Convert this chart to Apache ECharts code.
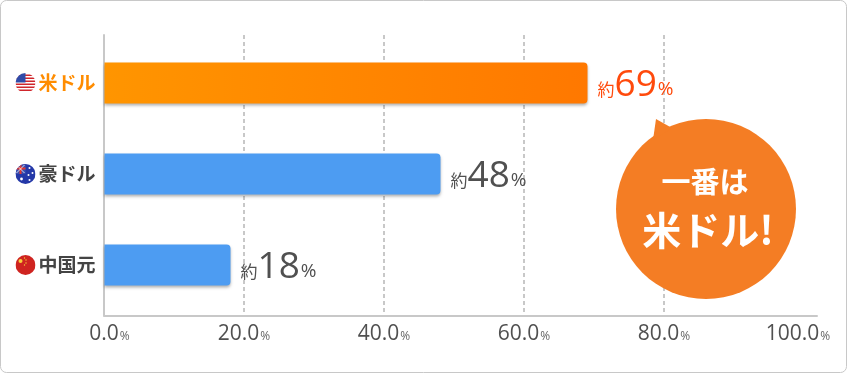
<!DOCTYPE html>
<html>
<head>
<meta charset="utf-8">
<style>
  html, body { margin: 0; padding: 0; background: #fff; }
  #main { width: 847px; height: 373px; }
</style>
<script src="https://cdn.jsdelivr.net/npm/echarts@6/dist/echarts.min.js"></script>
</head>
<body>
<div id="main"></div>
<script>
const categories = ["米ドル", "豪ドル", "中国元"];
const values = [69, 48, 18];
const xTicks = [0, 20, 40, 60, 80, 100];

const FONT = '"Open Sans", "Noto Sans CJK JP", sans-serif';
const JP = '"Noto Sans CJK JP", sans-serif';
const GREY = "#505050";

// round flags, drawn as small inline svg images for the axis labels
function svgUri(inner) {
  return "data:image/svg+xml;charset=utf-8," + encodeURIComponent(
    '<svg xmlns="http://www.w3.org/2000/svg" width="20" height="20" viewBox="0 0 20 20">' +
    '<defs><clipPath id="c"><circle cx="10" cy="10" r="10"/></clipPath></defs>' +
    '<g clip-path="url(#c)">' + inner + "</g></svg>");
}
const usFlag = svgUri(
  '<rect width="20" height="20" fill="#fff"/>' +
  [1.5, 4.5, 7.5, 10.5, 13.5, 16.5].map((y) => `<rect y="${y}" width="20" height="1.6" fill="#d0262c"/>`).join("") +
  '<rect width="10" height="9.5" fill="#2f4ba8"/>');
const auFlag = svgUri(
  '<rect width="20" height="20" fill="#2438a8"/>' +
  '<rect x="0" y="0" width="10" height="10" fill="#3a4fb0"/>' +
  '<path d="M0 4.5h10M5 0v10" stroke="#e4362e" stroke-width="2"/>' +
  '<path d="M1 1l8 8M9 1l-8 8" stroke="#fff" stroke-width=".8"/>' +
  '<g fill="#fff"><circle cx="14" cy="4" r="1"/><circle cx="17" cy="9" r="1"/><circle cx="13" cy="11" r="1"/><circle cx="14" cy="16" r="1"/><circle cx="6" cy="15" r="1.4"/></g>');
const cnFlag = svgUri(
  '<rect width="20" height="20" fill="#cf2420"/>' +
  '<circle cx="5" cy="6" r="2" fill="#f7d038"/>' +
  '<g fill="#f7d038"><circle cx="9" cy="3" r=".7"/><circle cx="10.5" cy="5" r=".7"/><circle cx="10.5" cy="8" r=".7"/><circle cx="9" cy="10" r=".7"/></g>');

const flagRich = (img) => ({
  width: 20, height: 20, backgroundColor: { image: img }
});
const nameRich = (color) => ({
  color: color, fontFamily: JP, fontWeight: "bold", fontSize: 19, padding: [0, 0, 0, 3]
});
const tickNum = (padding) => ({ fontFamily: FONT, fontSize: 21, fontWeight: 500, color: GREY, padding: padding });
const tickPct = (padding) => ({ fontFamily: FONT, fontSize: 12, color: "#666", padding: padding });
const valueRich = (color) => ({
  u: { fontFamily: JP, fontSize: 17, color: color, padding: [9, 0, 0, 0] },
  v: { fontFamily: FONT, fontSize: 37, fontWeight: 500, color: color },
  p: { fontFamily: FONT, fontSize: 19, color: color, padding: [9, 0, 0, 1] },
});
const hiRich = valueRich("#ff4a0c");
const loRich = valueRich(GREY);

const myChart = echarts.init(document.getElementById("main"));

const option = {
  animation: false,
  backgroundColor: "#fff",
  grid: [
    // frame grid: reaches a bit past the bars on top and bottom
    { left: 104, width: 713, top: 35, height: 280.5 },
    { left: 104.5, width: 713, top: 37.5, height: 273 },
  ],
  xAxis: [
    {
      gridIndex: 0,
      type: "value",
      min: 0,
      max: 101.86,
      axisLine: { show: true, onZero: false, lineStyle: { color: "#c8c8c8", width: 2 } },
      axisTick: { show: false, customValues: xTicks },
      splitLine: {
        show: true,
        showMinLine: false,
        showMaxLine: false,
        lineStyle: { color: "#c8c8c8", width: 2, type: [4, 3] },
      },
      axisLabel: {
        customValues: xTicks,
        margin: 8,
        // first and last labels sit a little inside their ticks
        formatter: (v) => {
          const key = v === 0 ? "first" : v === 100 ? "last" : "mid";
          return `{n${key}|${v.toFixed(1)}}{p${key}|%}`;
        },
        rich: {
          nmid: tickNum([0, 0, 0, 0]),
          pmid: tickPct([5, 0, 0, 1]),
          nfirst: tickNum([0, 0, 0, 11]),
          pfirst: tickPct([5, 0, 0, 1]),
          nlast: tickNum([0, 0, 0, 0]),
          plast: tickPct([5, 12, 0, 1]),
        },
      },
    },
    {
      gridIndex: 1,
      type: "value",
      min: 0,
      max: 101.86,
      show: false,
    },
  ],
  yAxis: [
    {
      gridIndex: 0,
      type: "value",
      min: 0,
      max: 1,
      offset: 2,
      axisLine: { show: true, lineStyle: { color: "#c8c8c8", width: 2 } },
      axisTick: { show: false },
      axisLabel: { show: false },
      splitLine: { show: false },
    },
    {
      gridIndex: 1,
      type: "category",
      inverse: true,
      data: categories,
      axisLine: { show: false },
      axisTick: { show: false },
      splitLine: { show: false },
      axisLabel: {
        margin: 9,
        formatter: (name, i) => `{${["us", "au", "cn"][i]}|}{${i === 0 ? "hi" : "nm"}|${name}}`,
        rich: {
          us: flagRich(usFlag),
          au: flagRich(auFlag),
          cn: flagRich(cnFlag),
          hi: nameRich("#ff8c00"),
          nm: nameRich("#444"),
        },
      },
    },
  ],
  series: [
    {
      type: "bar",
      xAxisIndex: 1,
      yAxisIndex: 1,
      barWidth: 41,
      data: values.map((v, i) => ({
        value: v,
        itemStyle: i === 0
          ? {
              color: new echarts.graphic.LinearGradient(0, 0, 1, 0, [
                { offset: 0, color: "#ff9500" },
                { offset: 1, color: "#ff7800" },
              ]),
            }
          : { color: "#4d9cf2" },
        label: {
          formatter: i === 0 ? "{hu|約}{hv|{c}}{hp|%}" : "{u|約}{v|{c}}{p|%}",
        },
      })),
      itemStyle: {
        borderRadius: [0, 4, 4, 0],
        shadowColor: "rgba(0,0,0,0.3)",
        shadowBlur: 3,
        shadowOffsetY: 2,
      },
      label: {
        show: true,
        position: "right",
        distance: 10,
        offset: [0, 2],
        rich: {
          u: loRich.u, v: loRich.v, p: loRich.p,
          hu: hiRich.u, hv: hiRich.v, hp: hiRich.p,
        },
      },
    },
  ],
  graphic: [
    // card outline
    {
      type: "rect",
      z: -1,
      silent: true,
      shape: { x: 0.5, y: 0.5, width: 846, height: 372, r: 6 },
      style: { fill: "#fff", stroke: "#c8c8c8", lineWidth: 1 },
    },
    // speech bubble
    {
      type: "circle",
      z: 10,
      silent: true,
      shape: { cx: 706, cy: 209, r: 90 },
      style: { fill: "#f47d24" },
    },
    {
      type: "polygon",
      z: 10,
      silent: true,
      shape: { points: [[656, 119], [653, 140], [672, 128]] },
      style: { fill: "#f47d24" },
    },
    {
      type: "text",
      z: 11,
      silent: true,
      x: 705,
      y: 182,
      style: {
        text: "一番は",
        fill: "#fff",
        font: 'bold 29px "Noto Sans CJK JP", sans-serif',
        align: "center",
        verticalAlign: "middle",
      },
    },
    {
      type: "text",
      z: 11,
      silent: true,
      x: 708,
      y: 230,
      style: {
        text: "米ドル!",
        fill: "#fff",
        font: 'bold 39px "Noto Sans CJK JP", sans-serif',
        align: "center",
        verticalAlign: "middle",
      },
    },
  ],
};

myChart.setOption(option);
</script>
</body>
</html>
